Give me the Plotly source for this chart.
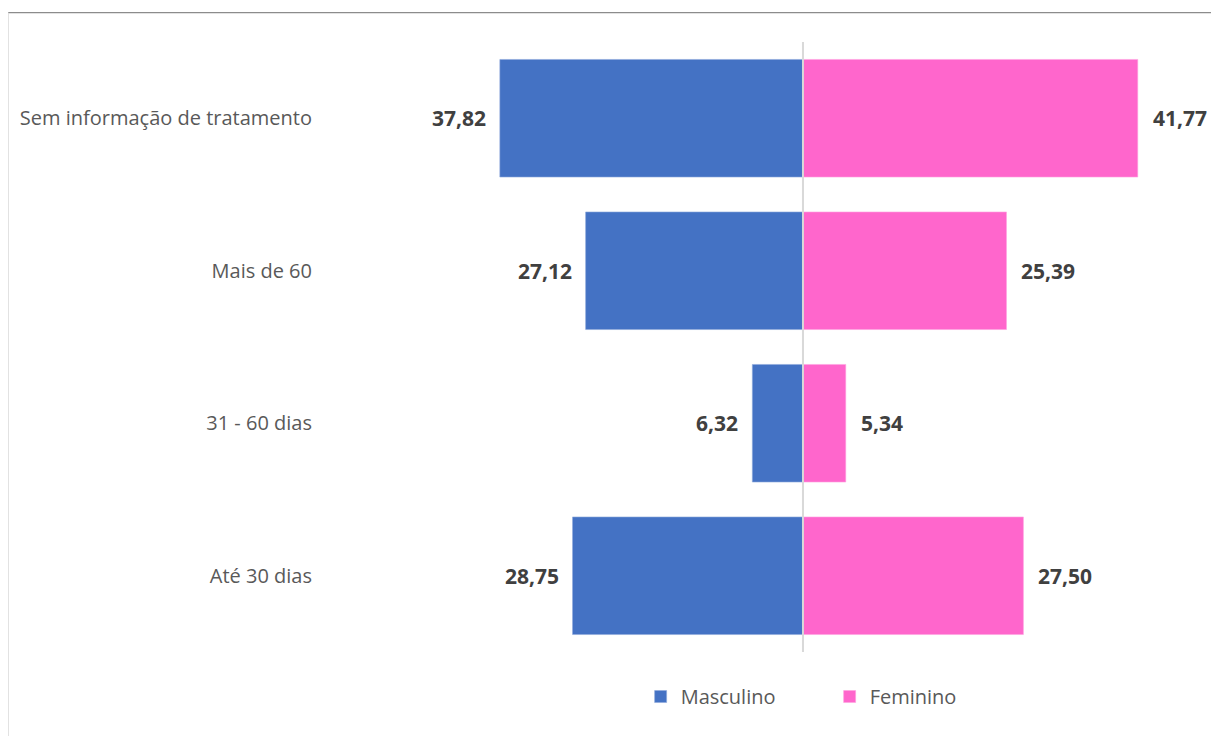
"""Butterfly bar chart: tempo de tratamento por sexo."""

import plotly.graph_objects as go

# Data (bottom to top, as in the reference)
CATEGORIES = ["Até 30 dias", "31 - 60 dias", "Mais de 60", "Sem informação de tratamento"]
MASCULINO = [28.75, 6.32, 27.12, 37.82]
FEMININO = [27.50, 5.34, 25.39, 41.77]

COLORS = {
    "Masculino": "#4472C4",
    "Feminino": "#FF66CC",
}
LABEL_COLOR = "#595959"
VALUE_COLOR = "#404040"
FONT = "Open Sans"


def fmt(v: float) -> str:
    """Brazilian-style decimal comma."""
    return f"{v:.2f}".replace(".", ",")


fig = go.Figure()
fig.add_trace(go.Bar(
    y=CATEGORIES,
    x=[-v for v in MASCULINO],
    name="Masculino",
    orientation="h",
    marker=dict(color=COLORS["Masculino"], line=dict(color="#8FAADC", width=0.6)),
    hoverinfo="skip",
))
fig.add_trace(go.Bar(
    y=CATEGORIES,
    x=FEMININO,
    name="Feminino",
    orientation="h",
    marker=dict(color=COLORS["Feminino"], line=dict(color="#FFA3E0", width=0.6)),
    hoverinfo="skip",
))

# value labels next to each bar end
annotations = []
for cat, m, f in zip(CATEGORIES, MASCULINO, FEMININO):
    annotations.append(dict(
        x=-m, y=cat, xref="x", yref="y", text=f"<b>{fmt(m)}</b>",
        xanchor="right", xshift=-12, showarrow=False,
        font=dict(family=FONT, size=21, color=VALUE_COLOR),
    ))
    annotations.append(dict(
        x=f, y=cat, xref="x", yref="y", text=f"<b>{fmt(f)}</b>",
        xanchor="left", xshift=13, showarrow=False,
        font=dict(family=FONT, size=21, color=VALUE_COLOR),
    ))

fig.update_layout(
    width=1219,
    height=736,
    barmode="relative",
    bargap=0.229,
    plot_bgcolor="#FFFFFF",
    paper_bgcolor="#FFFFFF",
    font=dict(family=FONT, color=LABEL_COLOR),
    margin=dict(l=322, r=17, t=33.5, b=91.5),
    annotations=annotations,
    legend=dict(
        orientation="h",
        x=0.353, xanchor="left",
        y=-0.073, yanchor="middle",
        font=dict(family=FONT, size=20, color=LABEL_COLOR),
        traceorder="normal",
        entrywidth=144,
        entrywidthmode="pixels",
    ),
    shapes=[
        # center divider
        dict(type="line", xref="x", yref="paper", x0=0, x1=0, y0=0, y1=1,
             line=dict(color="#D9D9D9", width=2), layer="above"),
        # chart frame (top and left)
        dict(type="line", xref="paper", yref="paper", x0=-0.3659, x1=1.02,
             y0=1.0483, y1=1.0483, line=dict(color="#8C8C8C", width=1.2)),
        dict(type="line", xref="paper", yref="paper", x0=-0.3659, x1=-0.3659,
             y0=1.0483, y1=-0.2, line=dict(color="#D9D9D9", width=1.5)),
    ],
)
fig.update_xaxes(
    range=[-59.01, 50.78],
    showticklabels=False,
    showgrid=False,
    zeroline=False,
    fixedrange=True,
)
fig.update_yaxes(
    showgrid=False,
    zeroline=False,
    showline=False,
    ticklabelstandoff=17,
    tickfont=dict(family=FONT, size=20, color=LABEL_COLOR),
)

fig.write_html("out.html")
